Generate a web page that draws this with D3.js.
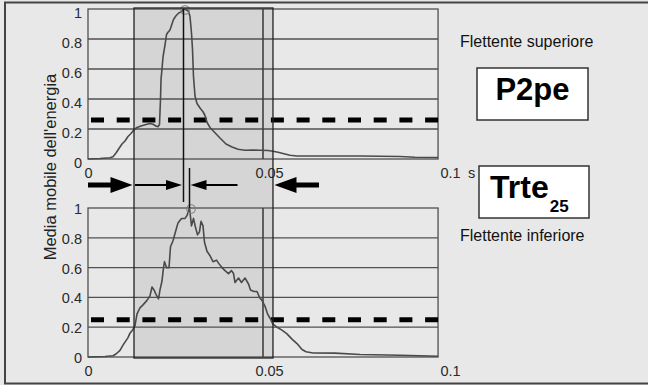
<!DOCTYPE html>
<html>
<head>
<meta charset="utf-8">
<script src="https://cdn.jsdelivr.net/npm/d3@7"></script>
<style>
  body { margin: 0; background: #e8e8e8; }
  svg { display: block; font-family: "Liberation Sans", Arial, sans-serif; }
</style>
</head>
<body>
<div id="chart"></div>
<script>
// upper flap (Flettente superiore): time [s], moving average of energy (normalised)
const tUpper = [0, 0.00331, 0.00608, 0.00691, 0.00773, 0.00856, 0.00939, 0.01022, 0.01105, 0.01188,
  0.01271, 0.01354, 0.01464, 0.01602, 0.01713, 0.01796, 0.01878, 0.01934, 0.01975, 0.02003,
  0.02017, 0.02044, 0.02072, 0.02127, 0.02169, 0.0221, 0.02265, 0.0232, 0.02362, 0.02431,
  0.02514, 0.02583, 0.02638, 0.02707, 0.02776, 0.02818, 0.02859, 0.02887, 0.02914, 0.02956,
  0.03011, 0.03094, 0.03177, 0.03232, 0.03287, 0.0337, 0.03508, 0.03646, 0.03812, 0.03978,
  0.04144, 0.04337, 0.0453, 0.04751, 0.04972, 0.0511, 0.05249, 0.05414, 0.0558, 0.05773,
  0.06409, 0.07514, 0.08619, 0.09033, 0.09669];
const vUpper = [0, 0.003, 0.008, 0.015, 0.04, 0.07, 0.1, 0.12, 0.15, 0.17,
  0.195, 0.21, 0.22, 0.23, 0.237, 0.232, 0.22, 0.215, 0.23, 0.4,
  0.53, 0.6, 0.68, 0.76, 0.83, 0.845, 0.86, 0.9, 0.93, 0.955,
  0.975, 0.98, 1.0, 0.995, 0.985, 0.95, 0.84, 0.73, 0.55, 0.42,
  0.37, 0.34, 0.315, 0.29, 0.245, 0.21, 0.175, 0.14, 0.1, 0.08,
  0.065, 0.058, 0.06, 0.058, 0.057, 0.052, 0.045, 0.035, 0.025, 0.02,
  0.02, 0.02, 0.017, 0.012, 0.01];

// lower flap (Flettente inferiore)
const tLower = [0, 0.0047, 0.00691, 0.00773, 0.00884, 0.00967, 0.01022, 0.01105, 0.0116, 0.01243,
  0.01298, 0.01354, 0.01436, 0.01519, 0.0163, 0.01713, 0.01768, 0.01823, 0.01878, 0.01948,
  0.01989, 0.02044, 0.02086, 0.02113, 0.02169, 0.02238, 0.02279, 0.02348, 0.02417, 0.02486,
  0.02583, 0.0268, 0.02735, 0.02804, 0.02859, 0.02914, 0.0297, 0.03025, 0.0308, 0.03122,
  0.03177, 0.03218, 0.03287, 0.0337, 0.03453, 0.0355, 0.03605, 0.03702, 0.03785, 0.03881,
  0.03964, 0.0402, 0.04061, 0.04158, 0.0424, 0.04337, 0.04434, 0.04489, 0.04586, 0.04669,
  0.04738, 0.04807, 0.0489, 0.04959, 0.05028, 0.0511, 0.05221, 0.05359, 0.05497, 0.05635,
  0.05773, 0.05912, 0.06022, 0.06215, 0.06823, 0.07514, 0.08619, 0.09171, 0.09669];
const vLower = [0, 0.003, 0.008, 0.02, 0.045, 0.08, 0.1, 0.13, 0.16, 0.185,
  0.21, 0.29, 0.33, 0.35, 0.38, 0.41, 0.47, 0.45, 0.42, 0.39,
  0.45, 0.51, 0.6, 0.64, 0.6, 0.6, 0.74, 0.78, 0.84, 0.9,
  0.93, 0.93, 0.95, 1.0, 0.88, 0.93, 0.87, 0.82, 0.84, 0.91,
  0.88, 0.77, 0.71, 0.68, 0.64, 0.65, 0.63, 0.6, 0.58, 0.56,
  0.58, 0.56, 0.5, 0.53, 0.5, 0.53, 0.49, 0.45, 0.44, 0.44,
  0.4, 0.38, 0.34, 0.29, 0.26, 0.22, 0.2, 0.18, 0.155, 0.12,
  0.09, 0.05, 0.035, 0.027, 0.026, 0.017, 0.012, 0.008, 0.005];

const thresholds = [0.26, 0.25];          // dashed 25% lines (upper, lower)
const peakTimes = [0.02638, 0.02804];     // circled maxima
const windowStart = 0.01271, windowEnd = 0.0511;   // shaded interval
const markTime = 0.04834;                 // extra vertical line in each plot
const tEnd = 0.0967;                      // end of recorded data
const xTicks = [0, 0.05, 0.1];
const yTicks = [0, 0.2, 0.4, 0.6, 0.8, 1];
const labels = ["Flettente superiore", "Flettente inferiore"];

const W = 648, H = 385;
const svg = d3.select("#chart").append("svg").attr("width", W).attr("height", H);
svg.append("rect").attr("width", W).attr("height", H).attr("fill", "#e8e8e8");

const x = d3.scaleLinear().domain([0, 0.1]).range([88, 450]);
const yUp = d3.scaleLinear().domain([0, 1]).range([159, 9]);
const yLo = d3.scaleLinear().domain([0, 1]).range([357, 208]);

const plots = [
  { t: tUpper, v: vUpper, y: yUp, thr: thresholds[0], peak: peakTimes[0], labDy: 3 },
  { t: tLower, v: vLower, y: yLo, thr: thresholds[1], peak: peakTimes[1], labDy: 0.5 }
];

// shaded window (behind both plots)
svg.append("rect")
  .attr("x", x(windowStart)).attr("y", yUp(1) - 1)
  .attr("width", x(windowEnd) - x(windowStart))
  .attr("height", yLo(0) + 1 - (yUp(1) - 1))
  .attr("fill", "#d5d5d5");

const grey = "#505050";
const tickFont = 14.5;
plots.forEach(p => {
  const g = svg.append("g");
  // grid
  g.selectAll(".grid").data(yTicks.slice(1, -1)).enter().append("line")
    .attr("x1", x(0)).attr("x2", x(tEnd))
    .attr("y1", d => p.y(d)).attr("y2", d => p.y(d))
    .attr("stroke", grey).attr("stroke-width", 1.3);
  g.append("rect")
    .attr("x", x(0)).attr("y", p.y(1))
    .attr("width", x(tEnd) - x(0)).attr("height", p.y(0) - p.y(1))
    .attr("fill", "none").attr("stroke", grey).attr("stroke-width", 1.3);
  g.append("line")
    .attr("x1", x(markTime)).attr("x2", x(markTime))
    .attr("y1", p.y(1)).attr("y2", p.y(0))
    .attr("stroke", "#404040").attr("stroke-width", 1.6);
  // threshold
  g.append("line")
    .attr("x1", x(0)).attr("x2", x(tEnd))
    .attr("y1", p.y(p.thr)).attr("y2", p.y(p.thr))
    .attr("stroke", "#000").attr("stroke-width", 5)
    .attr("stroke-dasharray", "13,12.7").attr("stroke-dashoffset", 22.7);
  // curve
  const line = d3.line().x(d => x(d[0])).y(d => p.y(d[1]));
  g.append("path")
    .datum(p.t.map((t, i) => [t, p.v[i]]))
    .attr("d", line)
    .attr("fill", "none").attr("stroke", "#4a4a4a").attr("stroke-width", 1.6)
    .attr("stroke-linejoin", "round");
  g.append("circle")
    .attr("cx", x(p.peak) + 1.5).attr("cy", p.y(1) + 1).attr("r", 4.3)
    .attr("fill", "none").attr("stroke", "#808080").attr("stroke-width", 1.1);

  // axes
  const ay = g.append("g").attr("transform", `translate(${x(0)},0)`)
    .call(d3.axisLeft(p.y).tickValues(yTicks).tickSize(0).tickPadding(6).tickFormat(d3.format("")));
  ay.select(".domain").remove();
  ay.selectAll("text").attr("font-size", tickFont).attr("fill", "#2a2a2a")
    .attr("font-family", "Liberation Sans, Arial, sans-serif")
    .attr("dy", "0.35em").attr("y", p.labDy);

  const ax = g.append("g").attr("transform", `translate(0,${p.y(0)})`)
    .call(d3.axisBottom(x).tickValues(xTicks).tickSize(0).tickFormat(d3.format("")));
  ax.select(".domain").remove();
  ax.selectAll("text").attr("font-size", tickFont).attr("fill", "#2a2a2a")
    .attr("font-family", "Liberation Sans, Arial, sans-serif")
    .attr("y", 14).attr("dy", "0.35em");
});

// window border
svg.append("rect")
  .attr("x", x(windowStart)).attr("y", yUp(1) - 1)
  .attr("width", x(windowEnd) - x(windowStart))
  .attr("height", yLo(0) + 1 - (yUp(1) - 1))
  .attr("fill", "none").attr("stroke", "#222").attr("stroke-width", 1.3);

// peak lines
svg.append("line")
  .attr("x1", x(peakTimes[0])).attr("x2", x(peakTimes[0]))
  .attr("y1", yUp(1)).attr("y2", 202)
  .attr("stroke", "#111").attr("stroke-width", 1.5);
svg.append("line")
  .attr("x1", x(peakTimes[1])).attr("x2", x(peakTimes[1]))
  .attr("y1", 168).attr("y2", yLo(1))
  .attr("stroke", "#111").attr("stroke-width", 1.5);

// arrows
function arrow(x0, x1, y, shaft, hl, hh) {
  const s = Math.sign(x1 - x0), xb = x1 - s * hl;
  return `M${x0},${y - shaft / 2}L${xb},${y - shaft / 2}L${xb},${y - hh / 2}L${x1},${y}` +
    `L${xb},${y + hh / 2}L${xb},${y + shaft / 2}L${x0},${y + shaft / 2}Z`;
}
const ay0 = 185;
const arrows = [
  arrow(x(0), x(windowStart) - 1.5, ay0, 5, 22, 16),
  arrow(x(windowStart) + 1, x(peakTimes[0]) - 1.5, ay0, 1.8, 16, 10),
  arrow(x(peakTimes[1]) + 48, x(peakTimes[1]) + 1, ay0, 1.8, 16, 10),
  arrow(x(windowEnd) + 46, x(windowEnd) + 1.5, ay0, 5, 22, 16)
];
svg.selectAll(".arrow").data(arrows).enter().append("path")
  .attr("d", d => d).attr("fill", "#000");

// unit
svg.append("text").attr("x", 468).attr("y", yUp(0) + 14).attr("dy", "0.35em")
  .attr("font-size", tickFont).attr("fill", "#2a2a2a").text("s");

// y label
svg.append("text")
  .attr("transform", "translate(55.5,167) rotate(-90)")
  .attr("text-anchor", "middle").attr("font-size", 16.5).attr("fill", "#222")
  .text("Media mobile dell'energia");

// right side labels
svg.append("text").attr("x", 460).attr("y", 47).attr("font-size", 16).attr("fill", "#111").text(labels[0]);
svg.append("text").attr("x", 460).attr("y", 240.5).attr("font-size", 16).attr("fill", "#111").text(labels[1]);

svg.append("rect").attr("x", 477).attr("y", 68).attr("width", 111).attr("height", 52)
  .attr("fill", "#fff").attr("stroke", "#333").attr("stroke-width", 1.5);
svg.append("text").attr("x", 532.5).attr("y", 100).attr("text-anchor", "middle")
  .attr("font-size", 31).attr("font-weight", "bold").attr("fill", "#000").text("P2pe");

svg.append("rect").attr("x", 479).attr("y", 166).attr("width", 110).attr("height", 52)
  .attr("fill", "#fff").attr("stroke", "#333").attr("stroke-width", 1.5);
const tr = svg.append("text").attr("x", 490).attr("y", 198)
  .attr("font-weight", "bold").attr("fill", "#000");
tr.append("tspan").attr("font-size", 32).text("Trte");
tr.append("tspan").attr("font-size", 17).attr("dy", 13.5).attr("dx", 1).text("25");

// outer frame
svg.append("rect").attr("x", 5).attr("y", 2.5).attr("width", 700).attr("height", 381)
  .attr("fill", "none").attr("stroke", "#444").attr("stroke-width", 2);
</script>
</body>
</html>
